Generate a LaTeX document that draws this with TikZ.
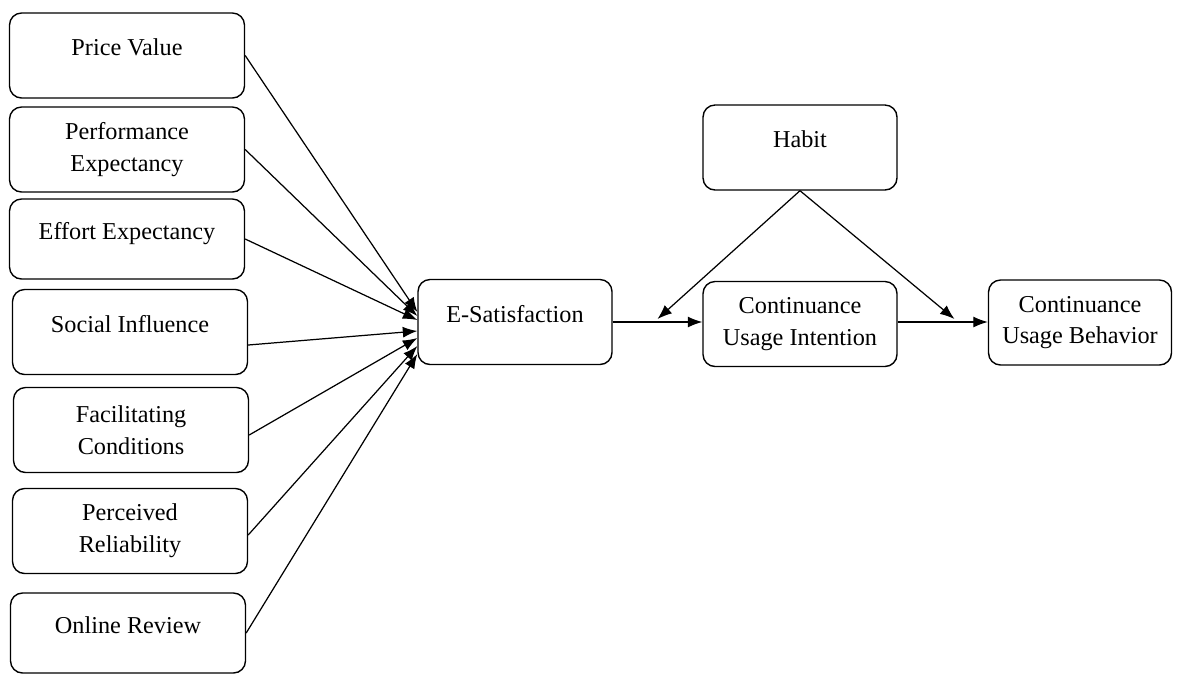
\documentclass[tikz,border=0pt]{standalone}
\usepackage{fontspec}
\setmainfont{Liberation Serif}
\usetikzlibrary{arrows.meta,calc}
\tikzset{
        factor/.style={draw=black, line width=0.8pt, rounded corners=0.24cm, minimum width=4.7cm, minimum height=1.7cm, align=center, inner sep=2pt, font=\fontsize{13.8}{18}\selectfont},
        oneline/.style={text height=0.33cm, text depth=0.33cm},
        midbox/.style={factor, minimum width=3.88cm},
        link/.style={line width=0.7pt, -{Latex[length=2.9mm,width=2.2mm]}}
          }
\begin{document}
\begin{tikzpicture}[x=0.02cm, y=-0.02cm]
        \useasboundingbox (0,0) rectangle (1182,674);
        % predictors
        \node[factor, oneline] (pv) at (127,55.5) {Price Value};
        \node[factor] (pe) at (127,149.5) {Performance\\Expectancy};
        \node[factor, oneline, minimum height=1.6cm] (ee) at (127,239) {Effort Expectancy};
        \node[factor, oneline] (si) at (130,332) {Social Influence};
        \node[factor] (fc) at (131,430) {Facilitating\\Conditions};
        \node[factor] (pr) at (130,531) {Perceived\\Reliability};
        \node[factor, oneline, minimum height=1.6cm] (or) at (128,633) {Online Review};
        % outcomes
        \node[midbox, oneline] (esat) at (515,322) {E-Satisfaction};
        \node[midbox] (cui) at (800,324) {Continuance\\Usage Intention};
        \node[midbox, oneline] (habit) at (800,147.5) {Habit};
        \node[midbox, minimum width=3.66cm] (cub) at (1080,322.5) {Continuance\\Usage Behavior};
        % links into E-Satisfaction
        \draw[link] (pv.east) -- ($(esat.west)+(0,-10)$);
        \draw[link] (pe.east) -- ($(esat.west)+(0,-6)$);
        \draw[link] (ee.east) -- ($(esat.west)+(0,-2)$);
        \draw[link] ($(si.east)+(0,13)$) -- ($(esat.west)+(0,9)$);
        \draw[link] ($(fc.east)+(0,5)$) -- ($(esat.west)+(0,16)$);
        \draw[link] ($(pr.east)+(0,4)$) -- ($(esat.west)+(0,24)$);
        \draw[link] (or.east) -- ($(esat.west)+(0,32)$);
        \draw[link] (esat.east) -- (esat.east -| cui.west);
        \draw[link] (esat.east -| cui.east) -- (esat.east -| cub.west);
        % moderation by habit
        \coordinate (m1) at ($(esat.east)!0.5!(esat.east -| cui.west)+(0,-3)$);
        \coordinate (m2) at ($(esat.east -| cui.east)!0.63!(esat.east -| cub.west)+(0,-3)$);
        \draw[link] (habit.south) -- (m1);
        \draw[link] (habit.south) -- (m2);
      \end{tikzpicture}
\end{document}
